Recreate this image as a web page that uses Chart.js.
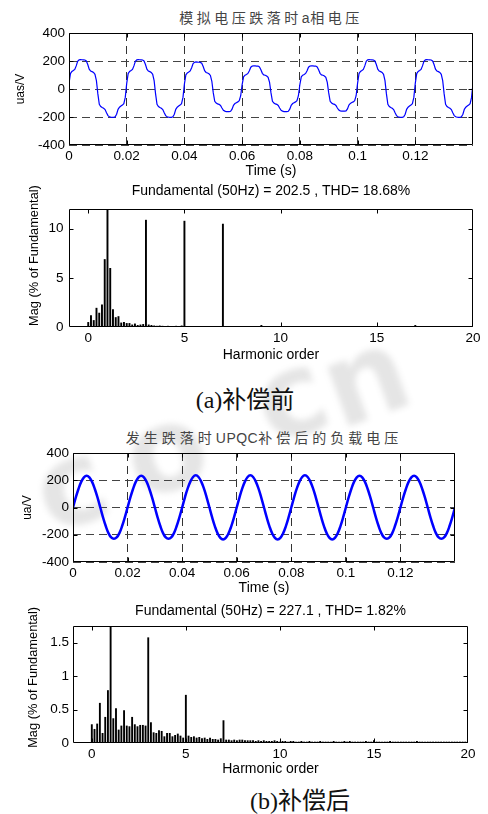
<!DOCTYPE html>
<html>
<head>
<meta charset="utf-8">
<script src="https://cdn.jsdelivr.net/npm/chart.js@4.4.0/dist/chart.umd.min.js"></script>
<style>
html, body { margin: 0; padding: 0; background: #fff; }
body { width: 488px; height: 814px; position: relative; overflow: hidden; }
canvas { position: absolute; left: 0; }
.cjk-title { position: absolute; text-align: center; font: 14px "Noto Sans CJK SC", sans-serif; line-height: 20px; color: #444; white-space: nowrap; }
.cjk-title .lat { letter-spacing: 0.5px; font-family: "Liberation Sans", Arial, sans-serif; }
.caption { position: absolute; text-align: center; font: 24px "Liberation Serif", "Noto Sans CJK SC", serif; line-height: 28px; color: #111; white-space: nowrap; }
.wm { position: absolute; font: bold 116px "DejaVu Sans", sans-serif; line-height: 1; color: rgba(0,0,0,0.10); filter: blur(3px); transform: translate(-50%, -50%) rotate(-20deg); }
</style>
</head>
<body>
<span class="wm" style="left:70px;top:485px;">c</span>
<span class="wm" style="left:165px;top:450px;">o</span>
<span class="wm" style="left:290px;top:396px;">c</span>
<span class="wm" style="left:365px;top:378px;">n</span>

<div class="cjk-title" style="left:69px;width:404px;top:7px;letter-spacing:3.5px;">模拟电压跌落时<span class="lat">a</span>相电压</div>
<canvas id="wave1" width="488" height="182" style="top:0px"></canvas>
<canvas id="spec1" width="488" height="182" style="top:182px"></canvas>
<div class="caption" style="left:145px;width:200px;top:386px;">(a)补偿前</div>

<div class="cjk-title" style="left:73px;width:382px;top:427px;letter-spacing:4px;">发生跌落时<span class="lat">UPQC</span>补偿后的负载电压</div>
<canvas id="wave2" width="488" height="180" style="top:420px"></canvas>
<canvas id="spec2" width="488" height="180" style="top:600px"></canvas>
<div class="caption" style="left:200px;width:200px;top:787px;">(b)补偿后</div>

<script>
// ---- data ----
// (a) source voltage during the sag, one sample every 0.5 ms, 0 .. 0.14 s
const uasStep = 0.0005;
const uasVolt = [
    40, 110, 125, 132, 140, 165, 198, 208, 210, 209, 208, 207, 200, 175, 142, 128, 124, 118, 105, 60,
    -35, -110, -125, -132, -138, -147, -170, -190, -198, -201, -202, -202, -199, -180, -145, -130, -122, -115, -105, -60,
    40, 110, 125, 132, 140, 165, 198, 208, 210, 209, 208, 207, 200, 175, 142, 128, 124, 118, 105, 60,
    -35, -110, -125, -132, -138, -147, -170, -190, -198, -201, -202, -202, -199, -180, -145, -130, -122, -115, -105, -60,
    37, 101, 115, 121, 129, 152, 182, 191, 193, 192, 191, 190, 184, 161, 131, 118, 114, 109, 97, 55,
    -28, -88, -100, -106, -110, -118, -136, -152, -158, -161, -162, -162, -159, -144, -116, -104, -98, -92, -84, -48,
    32, 87, 99, 104, 111, 130, 156, 164, 166, 165, 164, 164, 158, 138, 112, 101, 98, 93, 83, 47,
    -28, -88, -100, -106, -110, -118, -136, -152, -158, -161, -162, -162, -159, -144, -116, -104, -98, -92, -84, -48,
    32, 87, 99, 104, 111, 130, 156, 164, 166, 165, 164, 164, 158, 138, 112, 101, 98, 93, 83, 47,
    -28, -88, -100, -106, -110, -118, -136, -150, -156, -158, -158, -158, -156, -142, -115, -103, -97, -92, -84, -48,
    40, 110, 125, 132, 140, 165, 198, 208, 210, 209, 208, 207, 200, 175, 142, 128, 124, 118, 105, 60,
    -35, -110, -125, -132, -138, -147, -170, -190, -198, -201, -202, -202, -199, -180, -145, -130, -122, -115, -105, -60,
    40, 110, 125, 132, 140, 165, 198, 208, 210, 209, 208, 207, 200, 175, 142, 128, 124, 118, 105, 60,
    -35, -110, -125, -132, -138, -147, -170, -190, -198, -201, -202, -202, -199, -180, -145, -130, -122, -115, -105, -60,
    40
];

// (b) load voltage after UPQC compensation, one sample every 1 ms
const uaStep = 0.001;
const uaVolt = [
    0, 72, 136, 188, 221, 233, 221, 188, 136, 72, 0, -72, -136, -188, -220, -230, -220, -188, -136, -72,
    0, 72, 136, 188, 221, 233, 221, 188, 136, 72, 0, -72, -136, -188, -220, -230, -220, -188, -136, -72,
    0, 73, 138, 190, 224, 236, 224, 190, 138, 73, 0, -73, -138, -190, -223, -234, -223, -190, -138, -73,
    0, 73, 138, 190, 224, 236, 224, 190, 138, 73, 0, -73, -138, -190, -223, -234, -223, -190, -138, -73,
    0, 73, 138, 190, 224, 236, 224, 190, 138, 73, 0, -73, -138, -190, -223, -234, -223, -190, -138, -73,
    0, 72, 136, 188, 221, 233, 221, 188, 136, 72, 0, -72, -136, -188, -220, -230, -220, -188, -136, -72,
    0, 72, 136, 188, 221, 233, 221, 188, 136, 72, 0, -72, -136, -188, -220, -230, -220, -188, -136, -72,
    0
];

// FFT bins every 1/7 harmonic order (0.14 s window), 0 .. 20
const binsPerOrder = 7;
const magBefore = [
    0.5, 1.2, 0.7, 1.95, 1.45, 2.3, 6.9, 100, 6.0, 1.8, 1.0, 1.1, 0.45, 0.5, 0.4, 0.4, 0.25, 0.35, 0.2, 0.25, 0.3,
    10.9, 0.25, 0.2, 0.15, 0.12, 0.15, 0.12, 0.1, 0.12, 0.1, 0.1, 0.12, 0.1, 0.15, 10.8, 0.1, 0.08, 0.1, 0.08, 0.1, 0.08,
    0.08, 0.1, 0.08, 0.08, 0.1, 0.08, 0.1, 10.5, 0.08, 0.1, 0.08, 0.08, 0.1, 0.08, 0.08, 0.08, 0.1, 0.08, 0.08, 0.08, 0.08,
    0.2, 0.08, 0.08, 0.1, 0.08, 0.08, 0.08, 0.1, 0.08, 0.08, 0.08, 0.08, 0.1, 0.08, 0.08, 0.08, 0.08, 0.1, 0.08, 0.08, 0.08,
    0.08, 0.08, 0.1, 0.08, 0.08, 0.08, 0.08, 0.1, 0.08, 0.08, 0.08, 0.08, 0.08, 0.1, 0.08, 0.08, 0.08, 0.08, 0.08, 0.1, 0.08,
    0.08, 0.08, 0.08, 0.08, 0.1, 0.08, 0.08, 0.08, 0.1, 0.08, 0.08, 0.08, 0.08, 0.08, 0.2, 0.08, 0.08, 0.08, 0.1, 0.08, 0.08,
    0.08, 0.08, 0.08, 0.1, 0.08, 0.08, 0.08, 0.08, 0.08, 0.1, 0.08, 0.08, 0.08, 0.08, 0.08
];
const magAfter = [
    0.28, 0.21, 0.29, 0.60, 0.15, 0.39, 0.79, 100, 0.37, 0.52, 0.20, 0.26, 0.49, 0.26, 0.25, 0.39, 0.28, 0.25, 0.27, 0.27, 0.26,
    1.58, 0.31, 0.16, 0.15, 0.19, 0.18, 0.10, 0.15, 0.15, 0.10, 0.12, 0.14, 0.11, 0.08, 0.72, 0.11, 0.09, 0.10, 0.08, 0.09, 0.07,
    0.08, 0.06, 0.08, 0.06, 0.06, 0.05, 0.07, 0.34, 0.05, 0.05, 0.04, 0.05, 0.04, 0.05, 0.05, 0.04, 0.04, 0.04, 0.04, 0.03, 0.04,
    0.03, 0.04, 0.03, 0.03, 0.03, 0.04, 0.03, 0.02, 0.03, 0.03, 0.02, 0.03, 0.03, 0.02, 0.02, 0.03, 0.02, 0.02, 0.03, 0.02, 0.02,
    0.02, 0.03, 0.02, 0.02, 0.02, 0.02, 0.03, 0.02, 0.02, 0.02, 0.03, 0.02, 0.03, 0.02, 0.02, 0.02, 0.02, 0.02, 0.03, 0.02, 0.02,
    0.04, 0.02, 0.02, 0.02, 0.02, 0.02, 0.03, 0.02, 0.02, 0.02, 0.02, 0.02, 0.02, 0.02, 0.02, 0.02, 0.03, 0.02, 0.02, 0.02, 0.02,
    0.02, 0.02, 0.02, 0.02, 0.02, 0.02, 0.02, 0.02, 0.02, 0.02, 0.02, 0.02, 0.02, 0.02, 0.02
];

// tick labels
const timeTicks = [0, 0.02, 0.04, 0.06, 0.08, 0.1, 0.12];
const voltTicks = [-400, -200, 0, 200, 400];
const orderTicks = [0, 5, 10, 15, 20];
const magTicksBefore = [0, 5, 10];
const magTicksAfter = [0, 0.5, 1, 1.5];

const titleBefore = 'Fundamental (50Hz) = 202.5 , THD= 18.68%';
const titleAfter = 'Fundamental (50Hz) = 227.1 , THD= 1.82%';

// ---- chart setup ----
Chart.defaults.font.family = '"Liberation Sans", Arial, sans-serif';
Chart.defaults.color = '#000';
Chart.defaults.animation = false;

// MATLAB style box with inward ticks on all four sides
const frameTicks = {
    id: 'frameTicks',
    afterDatasetsDraw(chart) {
        const { ctx, chartArea: a, scales: { x, y } } = chart;
        const L = Math.round(a.left) + 0.5, R = Math.round(a.right) - 0.5;
        const T = Math.round(a.top) + 0.5, B = Math.round(a.bottom) - 0.5;
        ctx.save();
        ctx.strokeStyle = '#000';
        ctx.lineWidth = 1;
        ctx.beginPath();
        ctx.rect(L, T, R - L, B - T);
        x.ticks.forEach(t => {
            const px = Math.round(x.getPixelForValue(t.value)) + 0.5;
            if (px - L < 2 || R - px < 2) return;
            ctx.moveTo(px, B); ctx.lineTo(px, B - 4);
            ctx.moveTo(px, T); ctx.lineTo(px, T + 4);
        });
        y.ticks.forEach(t => {
            const py = Math.round(y.getPixelForValue(t.value)) + 0.5;
            if (py - T < 2 || B - py < 2) return;
            ctx.moveTo(L, py); ctx.lineTo(L + 4, py);
            ctx.moveTo(R, py); ctx.lineTo(R - 4, py);
        });
        ctx.stroke();
        ctx.restore();
    }
};

const fixTicks = list => scale => { scale.ticks = list.map(v => ({ value: v })); };
const label = v => String(+v.toFixed(2));

function axes(cfg) {
    return {
        x: {
            type: 'linear',
            min: cfg.xMin, max: cfg.xMax,
            offset: false,
            afterBuildTicks: fixTicks(cfg.xTicks),
            afterFit: s => { s.height = cfg.xHeight; },
            grid: cfg.grid ? { color: '#333', lineWidth: 1, drawTicks: false } : { display: false, drawTicks: false },
            border: { display: false, dash: [8, 5] },
            ticks: { font: { size: 13.5 }, padding: 3, maxRotation: 0, autoSkip: false, callback: label },
            title: { display: true, text: cfg.xTitle, font: { size: 14 }, padding: { top: 0, bottom: cfg.xTitlePad } }
        },
        y: {
            min: cfg.yMin, max: cfg.yMax,
            afterBuildTicks: fixTicks(cfg.yTicks),
            afterFit: s => { s.width = cfg.yWidth; },
            grid: cfg.grid ? { color: '#444', lineWidth: 1, drawTicks: false } : { display: false, drawTicks: false },
            border: { display: false, dash: [8, 5] },
            ticks: { font: { size: 13.5 }, padding: cfg.yTickPad, autoSkip: false, callback: label },
            title: { display: true, text: cfg.yTitle, font: { size: cfg.yTitleSize }, padding: { top: cfg.yTitlePad, bottom: 0 } }
        }
    };
}

function waveChart(id, step, values, lineWidth, tension, cfg) {
    const points = values.map((v, i) => ({ x: i * step, y: v }));
    return new Chart(document.getElementById(id), {
        type: 'line',
        data: { datasets: [{ data: points, borderColor: '#0000ff', borderWidth: lineWidth, pointRadius: 0, tension: tension, fill: false }] },
        options: {
            responsive: false,
            layout: { padding: { top: cfg.top, right: cfg.right, bottom: 0, left: 0 } },
            plugins: { legend: { display: false }, tooltip: { enabled: false }, title: { display: false } },
            scales: axes(Object.assign({ grid: true, xMin: 0, xMax: 0.14, xTicks: timeTicks, xTitle: 'Time (s)',
                yMin: -400, yMax: 400, yTicks: voltTicks }, cfg))
        },
        plugins: [frameTicks]
    });
}

function specChart(id, values, title, cfg) {
    const bars = values.map((v, k) => ({ x: k / binsPerOrder, y: v }));
    return new Chart(document.getElementById(id), {
        type: 'bar',
        data: { datasets: [{ data: bars, backgroundColor: '#000', borderWidth: 0, barPercentage: 0.7, categoryPercentage: 1, clip: 0 }] },
        options: {
            responsive: false,
            layout: { padding: { top: 0, right: cfg.right, bottom: 0, left: 0 } },
            plugins: {
                legend: { display: false }, tooltip: { enabled: false },
                title: { display: true, text: title, fullSize: false, color: '#000', font: { size: 14, weight: 'normal' },
                    padding: { top: cfg.titleTop, bottom: cfg.titleBottom } }
            },
            scales: axes(Object.assign({ grid: false, xMin: -1, xMax: 20, xTicks: orderTicks, xTitle: 'Harmonic order',
                yMin: 0, yTitleSize: 12.8 }, cfg))
        },
        plugins: [frameTicks]
    });
}

waveChart('wave1', uasStep, uasVolt, 1.2, 0, {
    top: 33, right: 15, xHeight: 37, xTitlePad: 2.6, yWidth: 69, yTickPad: 4,
    yTitle: 'uas/V', yTitleSize: 12, yTitlePad: 13.8
});
// leading spaces lift the rotated label a little, as in the original figure
specChart('spec1', magBefore, titleBefore, {
    right: 15, titleTop: 1.2, titleBottom: 9, xHeight: 37, xTitlePad: 0.6, yWidth: 69, yTickPad: 5.5,
    yMax: 12, yTicks: magTicksBefore, yTitle: '       Mag (% of Fundamental)', yTitlePad: 26.3
});
waveChart('wave2', uaStep, uaVolt, 2.5, 0.4, {
    top: 33, right: 33, xHeight: 38, xTitlePad: 3.6, yWidth: 73, yTickPad: 4,
    yTitle: 'ua/V', yTitleSize: 12, yTitlePad: 20.3
});
specChart('spec2', magAfter, titleAfter, {
    right: 20, titleTop: 2.6, titleBottom: 6.6, xHeight: 37, xTitlePad: 2.6, yWidth: 73, yTickPad: 4,
    yMax: 1.75, yTicks: magTicksAfter, yTitle: '    Mag (% of Fundamental)', yTitlePad: 25.3
});
</script>
</body>
</html>
